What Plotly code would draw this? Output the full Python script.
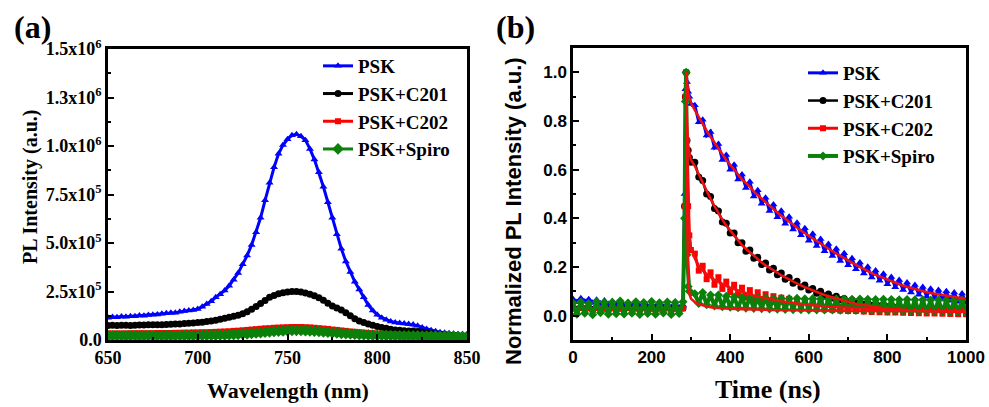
import plotly.graph_objects as go

# ---------------- (a) steady-state PL spectra ----------------
wavelength_nm = [650 + 2.5 * i for i in range(81)]

# PL intensity in units of 1e5 counts
psk_pl = [1.15, 1.18, 1.17, 1.21, 1.20, 1.22, 1.22, 1.26, 1.25, 1.29,
          1.30, 1.31, 1.35, 1.38, 1.40, 1.41, 1.45, 1.50, 1.52, 1.55,
          1.60, 1.72, 1.85, 2.00, 2.20, 2.36, 2.55, 2.80, 3.10, 3.45,
          3.90, 4.35, 4.90, 5.55, 6.30, 7.20, 8.10, 8.90, 9.60, 10.05,
          10.35, 10.55, 10.60, 10.50, 10.30, 9.85, 9.30, 8.65, 7.90, 7.10,
          6.30, 5.45, 4.70, 4.05, 3.50, 3.00, 2.60, 2.20, 1.80, 1.52,
          1.30, 1.15, 1.05, 0.96, 0.90, 0.87, 0.85, 0.83, 0.80, 0.74,
          0.65, 0.57, 0.50, 0.45, 0.40, 0.37, 0.35, 0.32, 0.30, 0.29,
          0.28]
c201_pl = [0.75, 0.76, 0.75, 0.76, 0.76, 0.75, 0.76, 0.77, 0.77, 0.78,
           0.78, 0.79, 0.79, 0.80, 0.81, 0.82, 0.83, 0.85, 0.86, 0.88,
           0.90, 0.92, 0.95, 0.98, 1.02, 1.07, 1.12, 1.17, 1.22, 1.28,
           1.35, 1.46, 1.58, 1.73, 1.88, 2.04, 2.20, 2.30, 2.38, 2.44,
           2.48, 2.50, 2.50, 2.47, 2.42, 2.36, 2.28, 2.18, 2.05, 1.90,
           1.75, 1.65, 1.55, 1.40, 1.25, 1.10, 0.98, 0.90, 0.83, 0.76,
           0.70, 0.65, 0.60, 0.56, 0.52, 0.50, 0.48, 0.47, 0.46, 0.44,
           0.41, 0.37, 0.34, 0.31, 0.29, 0.27, 0.25, 0.23, 0.22, 0.21,
           0.20]
c202_pl = [0.34, 0.34, 0.34, 0.34, 0.34, 0.35, 0.35, 0.35, 0.35, 0.35,
           0.35, 0.36, 0.36, 0.36, 0.36, 0.37, 0.37, 0.38, 0.38, 0.39,
           0.39, 0.40, 0.40, 0.41, 0.42, 0.43, 0.44, 0.45, 0.47, 0.48,
           0.50, 0.52, 0.54, 0.56, 0.58, 0.60, 0.61, 0.63, 0.64, 0.65,
           0.66, 0.67, 0.67, 0.67, 0.66, 0.65, 0.63, 0.61, 0.59, 0.57,
           0.54, 0.52, 0.49, 0.47, 0.44, 0.42, 0.40, 0.38, 0.36, 0.35,
           0.33, 0.32, 0.30, 0.29, 0.28, 0.27, 0.26, 0.26, 0.25, 0.25,
           0.24, 0.23, 0.22, 0.22, 0.21, 0.21, 0.20, 0.20, 0.19, 0.19,
           0.18]
spiro_pl = [0.22, 0.21, 0.22, 0.22, 0.21, 0.22, 0.22, 0.21, 0.22, 0.22,
            0.22, 0.22, 0.22, 0.22, 0.22, 0.22, 0.23, 0.23, 0.23, 0.23,
            0.23, 0.24, 0.24, 0.25, 0.25, 0.26, 0.26, 0.27, 0.28, 0.29,
            0.31, 0.32, 0.34, 0.36, 0.38, 0.40, 0.42, 0.44, 0.45, 0.47,
            0.48, 0.49, 0.50, 0.49, 0.48, 0.47, 0.45, 0.44, 0.42, 0.40,
            0.38, 0.36, 0.34, 0.33, 0.31, 0.30, 0.28, 0.27, 0.26, 0.25,
            0.24, 0.24, 0.23, 0.23, 0.22, 0.22, 0.21, 0.21, 0.21, 0.21,
            0.20, 0.20, 0.20, 0.20, 0.19, 0.19, 0.19, 0.19, 0.18, 0.18,
            0.18]

pl_tickvals = [0, 2.5e5, 5.0e5, 7.5e5, 1.0e6, 1.25e6, 1.5e6]
pl_ticktext = ["0.0", "2.5x10<sup>5</sup>", "5.0x10<sup>5</sup>", "7.5x10<sup>5</sup>",
               "1.0x10<sup>6</sup>", "1.3x10<sup>6</sup>", "1.5x10<sup>6</sup>"]

# ---------------- (b) time-resolved PL decays ----------------
time_ns = list(range(0, 281, 10)) + [284, 286, 288, 290, 293, 296, 300] + list(range(310, 1001, 10))
fit_time_ns = [288, 290, 293, 296, 300] + list(range(310, 1001, 10))

psk_trpl = [0.068, 0.056, 0.072, 0.058, 0.067, 0.053, 0.065, 0.050, 0.062, 0.048,
            0.059, 0.046, 0.056, 0.044, 0.054, 0.042, 0.052, 0.040, 0.050, 0.039,
            0.048, 0.038, 0.047, 0.037, 0.046, 0.036, 0.045, 0.035, 0.044,
            0.50, 0.93, 1.00, 0.96, 0.92, 0.90, 0.87,
            0.865, 0.795, 0.805, 0.74, 0.755, 0.69, 0.705, 0.64, 0.66, 0.60,
            0.62, 0.56, 0.58, 0.525, 0.55, 0.49, 0.515, 0.46, 0.485, 0.43,
            0.457, 0.404, 0.431, 0.378, 0.406, 0.354, 0.382, 0.33, 0.359, 0.308,
            0.337, 0.286, 0.315, 0.265, 0.295, 0.245, 0.275, 0.225, 0.256, 0.207,
            0.236, 0.191, 0.218, 0.173, 0.201, 0.157, 0.186, 0.143, 0.172, 0.129,
            0.159, 0.117, 0.147, 0.105, 0.136, 0.095, 0.126, 0.086, 0.118, 0.078,
            0.111, 0.072, 0.105, 0.066, 0.100, 0.061, 0.095, 0.057, 0.091, 0.053]
c201_trpl = [0.032, 0.026, 0.035, 0.028, 0.033, 0.025, 0.034, 0.027, 0.032, 0.026,
             0.033, 0.027, 0.031, 0.025, 0.034, 0.026, 0.032, 0.027, 0.033, 0.025,
             0.031, 0.026, 0.032, 0.027, 0.033, 0.025, 0.031, 0.026, 0.032,
             0.45, 0.90, 1.00, 0.72, 0.68, 0.65, 0.63,
             0.63, 0.57, 0.555, 0.50, 0.49, 0.44, 0.43, 0.385, 0.38, 0.34,
             0.34, 0.30, 0.30, 0.265, 0.27, 0.236, 0.24, 0.21, 0.216, 0.188,
             0.195, 0.168, 0.175, 0.15, 0.157, 0.133, 0.141, 0.118, 0.126, 0.105,
             0.112, 0.092, 0.10, 0.082, 0.089, 0.073, 0.08, 0.065, 0.071, 0.058,
             0.064, 0.052, 0.058, 0.047, 0.053, 0.043, 0.049, 0.04, 0.046, 0.037,
             0.043, 0.034, 0.04, 0.032, 0.038, 0.03, 0.036, 0.028, 0.035, 0.027,
             0.034, 0.026, 0.033, 0.025, 0.032, 0.024, 0.031, 0.023, 0.03, 0.022]
c202_trpl = [0.030, 0.024, 0.033, 0.026, 0.031, 0.023, 0.032, 0.025, 0.030, 0.024,
             0.031, 0.025, 0.029, 0.023, 0.032, 0.024, 0.030, 0.025, 0.031, 0.023,
             0.029, 0.024, 0.030, 0.025, 0.031, 0.023, 0.029, 0.024, 0.030,
             0.45, 0.90, 1.00, 0.72, 0.45, 0.33, 0.27,
             0.255, 0.185, 0.205, 0.15, 0.178, 0.127, 0.158, 0.11, 0.14, 0.097,
             0.127, 0.085, 0.115, 0.074, 0.105, 0.065, 0.096, 0.058, 0.088, 0.051,
             0.080, 0.047, 0.074, 0.041, 0.069, 0.037, 0.065, 0.033, 0.061, 0.029,
             0.056, 0.028, 0.053, 0.026, 0.050, 0.023, 0.048, 0.021, 0.046, 0.019,
             0.043, 0.019, 0.042, 0.017, 0.040, 0.015, 0.039, 0.014, 0.037, 0.013,
             0.035, 0.013, 0.034, 0.012, 0.033, 0.011, 0.032, 0.010, 0.031, 0.009,
             0.031, 0.009, 0.030, 0.008, 0.029, 0.007, 0.029, 0.006, 0.028, 0.006]
spiro_trpl = [0.052, 0.006, 0.056, 0.010, 0.050, 0.004, 0.058, 0.012, 0.054, 0.006,
              0.055, 0.008, 0.060, 0.007, 0.052, 0.010, 0.057, 0.005, 0.054, 0.009,
              0.058, 0.006, 0.053, 0.011, 0.056, 0.005, 0.054, 0.009, 0.057,
              0.40, 0.88, 1.00, 0.25, 0.12, 0.10, 0.095,
              0.090, 0.050, 0.095, 0.045, 0.085, 0.040, 0.085, 0.037, 0.080, 0.035,
              0.077, 0.033, 0.075, 0.031, 0.075, 0.030, 0.073, 0.029, 0.073, 0.028,
              0.071, 0.027, 0.071, 0.026, 0.070, 0.025, 0.071, 0.025, 0.069, 0.024,
              0.070, 0.024, 0.069, 0.023, 0.068, 0.023, 0.069, 0.022, 0.068, 0.022,
              0.067, 0.021, 0.068, 0.021, 0.067, 0.020, 0.066, 0.020, 0.067, 0.019,
              0.066, 0.019, 0.065, 0.018, 0.066, 0.018, 0.065, 0.017, 0.065, 0.017,
              0.064, 0.016, 0.065, 0.016, 0.064, 0.015, 0.063, 0.015, 0.064, 0.015]

# exponential fits of the decays
psk_fit = [1.00, 0.96, 0.92, 0.895, 0.875,
           0.845, 0.815, 0.785, 0.76, 0.735, 0.71, 0.685, 0.66, 0.64, 0.62,
           0.60, 0.58, 0.56, 0.545, 0.53, 0.51, 0.495, 0.48, 0.465, 0.45,
           0.437, 0.424, 0.411, 0.398, 0.386, 0.374, 0.362, 0.35, 0.339, 0.328,
           0.317, 0.306, 0.295, 0.285, 0.275, 0.265, 0.255, 0.245, 0.236, 0.227,
           0.218, 0.209, 0.20, 0.191, 0.183, 0.175, 0.168, 0.161, 0.154, 0.147,
           0.141, 0.135, 0.129, 0.123, 0.118, 0.113, 0.108, 0.104, 0.10, 0.096,
           0.093, 0.09, 0.087, 0.084, 0.082, 0.079, 0.077, 0.075, 0.073, 0.071]
c201_fit = [1.00, 0.78, 0.70, 0.665, 0.64,
            0.615, 0.58, 0.545, 0.51, 0.48, 0.45, 0.42, 0.395, 0.37, 0.35,
            0.33, 0.31, 0.29, 0.275, 0.26, 0.245, 0.23, 0.218, 0.207, 0.196,
            0.186, 0.176, 0.166, 0.157, 0.148, 0.14, 0.132, 0.124, 0.117, 0.11,
            0.103, 0.097, 0.091, 0.085, 0.08, 0.075, 0.07, 0.065, 0.061, 0.057,
            0.053, 0.049, 0.046, 0.043, 0.04, 0.037, 0.035, 0.033, 0.031, 0.029,
            0.027, 0.026, 0.024, 0.023, 0.022, 0.021, 0.02, 0.019, 0.019, 0.018,
            0.018, 0.017, 0.017, 0.017, 0.016, 0.016, 0.016, 0.016, 0.016, 0.016]
c202_fit = [1.00, 0.70, 0.45, 0.33, 0.28,
            0.235, 0.205, 0.185, 0.17, 0.158, 0.147, 0.138, 0.13, 0.122, 0.115,
            0.109, 0.103, 0.097, 0.092, 0.087, 0.083, 0.079, 0.075, 0.071, 0.068,
            0.065, 0.062, 0.059, 0.056, 0.054, 0.052, 0.050, 0.048, 0.046, 0.044,
            0.043, 0.041, 0.040, 0.039, 0.037, 0.036, 0.035, 0.034, 0.033, 0.032,
            0.031, 0.030, 0.030, 0.029, 0.028, 0.027, 0.027, 0.026, 0.025, 0.025,
            0.024, 0.024, 0.023, 0.023, 0.022, 0.022, 0.021, 0.021, 0.020, 0.020,
            0.020, 0.019, 0.019, 0.019, 0.018, 0.018, 0.018, 0.017, 0.017, 0.017]
spiro_fit = [1.00, 0.45, 0.16, 0.09, 0.07,
             0.055, 0.047, 0.042, 0.038, 0.035, 0.033, 0.031, 0.030, 0.029, 0.028,
             0.027, 0.027, 0.026, 0.026, 0.025, 0.025, 0.024, 0.024, 0.024, 0.023,
             0.023, 0.023, 0.022, 0.022, 0.022, 0.022, 0.021, 0.021, 0.021, 0.021,
             0.021, 0.020, 0.020, 0.020, 0.020, 0.020, 0.020, 0.019, 0.019, 0.019,
             0.019, 0.019, 0.019, 0.019, 0.019, 0.019, 0.019, 0.019, 0.019, 0.019,
             0.018, 0.018, 0.018, 0.018, 0.018, 0.018, 0.018, 0.018, 0.018, 0.018,
             0.018, 0.018, 0.018, 0.018, 0.018, 0.018, 0.018, 0.018, 0.018, 0.018]

series_names = ["PSK", "PSK+C201", "PSK+C202", "PSK+Spiro"]
colors = ["#0000ff", "#000000", "#ff0000", "#0b800b"]
symbols = ["triangle-up", "circle", "square", "diamond"]
spec_marker_sizes = [7, 7, 6, 9]
decay_marker_sizes = [7, 7, 6, 7]
decay_line_widths = [3, 2.5, 3, 4]
fit_color = "#ee1111"

W, H = 989, 407
SERIF = "Liberation Serif"
SANS = "Liberation Sans"


def px(x):
    return x / W


def py(y):
    return 1 - y / H


fig = go.Figure()

spectra = [psk_pl, c201_pl, c202_pl, spiro_pl]
for name, vals, c, s, ms in zip(series_names, spectra, colors, symbols, spec_marker_sizes):
    fig.add_trace(go.Scatter(
        x=wavelength_nm, y=[v * 1e5 for v in vals], name=name,
        mode="lines+markers", line=dict(color=c, width=3),
        marker=dict(symbol=s, size=ms, color=c, line=dict(width=0)),
        xaxis="x", yaxis="y", legend="legend"))

decays = [psk_trpl, c201_trpl, c202_trpl, spiro_trpl]
for name, vals, c, s, ms, lw in zip(series_names, decays, colors, symbols,
                                    decay_marker_sizes, decay_line_widths):
    fig.add_trace(go.Scatter(
        x=time_ns, y=vals, name=name,
        mode="lines+markers", line=dict(color=c, width=lw),
        marker=dict(symbol=s, size=ms, color=c, line=dict(width=0)),
        xaxis="x2", yaxis="y2", legend="legend2"))

for fit in [psk_fit, c201_fit, c202_fit, spiro_fit]:
    fig.add_trace(go.Scatter(
        x=fit_time_ns, y=fit, mode="lines", showlegend=False,
        line=dict(color=fit_color, width=2.5), xaxis="x2", yaxis="y2"))

axis_common = dict(showline=True, linecolor="black", linewidth=2.5, mirror=True,
                   ticks="inside", ticklen=6, tickwidth=2, tickcolor="black",
                   showgrid=False, zeroline=False, automargin=False)

fig.update_layout(
    width=W, height=H, margin=dict(l=0, r=0, t=0, b=0, pad=0, autoexpand=False),
    paper_bgcolor="white", plot_bgcolor="white",
    xaxis=dict(domain=[px(108), px(467)], range=[650, 850],
               tickvals=[650, 700, 750, 800, 850],
               minor=dict(ticks="inside", ticklen=3, tickwidth=1.5, dtick=25, tick0=650, tickcolor="black"),
               tickfont=dict(family=SERIF, size=18, color="black", weight="bold"),
               anchor="y", **axis_common),
    yaxis=dict(domain=[py(340), py(49)], range=[0, 1.5e6],
               tickvals=pl_tickvals, ticktext=pl_ticktext,
               minor=dict(ticks="inside", ticklen=3, tickwidth=1.5, dtick=1.25e5, tick0=0, tickcolor="black"),
               tickfont=dict(family=SERIF, size=18, color="black", weight="bold"),
               anchor="x", **axis_common),
    xaxis2=dict(domain=[px(573), px(966)], range=[0, 1000],
                tickvals=[0, 200, 400, 600, 800, 1000],
                minor=dict(ticks="inside", ticklen=3, tickwidth=1.5, dtick=100, tick0=0, tickcolor="black"),
                tickfont=dict(family=SANS, size=17, color="black", weight="bold"),
                anchor="y2", **axis_common),
    yaxis2=dict(domain=[py(340), py(48)], range=[-0.1, 1.1],
                tickvals=[0, 0.2, 0.4, 0.6, 0.8, 1.0],
                ticktext=["0.0", "0.2", "0.4", "0.6", "0.8", "1.0"],
                minor=dict(ticks="inside", ticklen=3, tickwidth=1.5, dtick=0.1, tick0=0, tickcolor="black"),
                tickfont=dict(family=SANS, size=17, color="black", weight="bold"),
                anchor="x2", **axis_common),
    legend=dict(x=px(318), y=py(47), xanchor="left", yanchor="top",
                bgcolor="rgba(0,0,0,0)", tracegroupgap=0,
                font=dict(family=SERIF, size=19, color="black", weight="bold")),
    legend2=dict(x=px(803), y=py(54), xanchor="left", yanchor="top",
                 bgcolor="rgba(0,0,0,0)", tracegroupgap=0,
                 font=dict(family=SERIF, size=19, color="black", weight="bold")),
    showlegend=True,
)

annotations = [
    dict(text="(a)", x=px(12), y=py(27), xanchor="left", yanchor="middle",
         font=dict(family=SERIF, size=32, weight="bold")),
    dict(text="(b)", x=px(494), y=py(27), xanchor="left", yanchor="middle",
         font=dict(family=SERIF, size=32, weight="bold")),
    dict(text="PL Intensity (a.u.)", x=px(30), y=py(187), textangle=-90,
         xanchor="center", yanchor="middle",
         font=dict(family=SERIF, size=20, weight="bold")),
    dict(text="Wavelength (nm)", x=px(288), y=py(390), xanchor="center", yanchor="middle",
         font=dict(family=SERIF, size=22, weight="bold")),
    dict(text="Normalized PL Intensity (a.u.)", x=px(513), y=py(211), textangle=-90,
         xanchor="center", yanchor="middle",
         font=dict(family=SANS, size=22, weight="bold")),
    dict(text="Time (ns)", x=px(768), y=py(389), xanchor="center", yanchor="middle",
         font=dict(family=SERIF, size=26, weight="bold")),
]
for a in annotations:
    a.update(xref="paper", yref="paper", showarrow=False)
    a["font"]["color"] = "black"
fig.update_layout(annotations=annotations)

fig.write_html("out.html")
